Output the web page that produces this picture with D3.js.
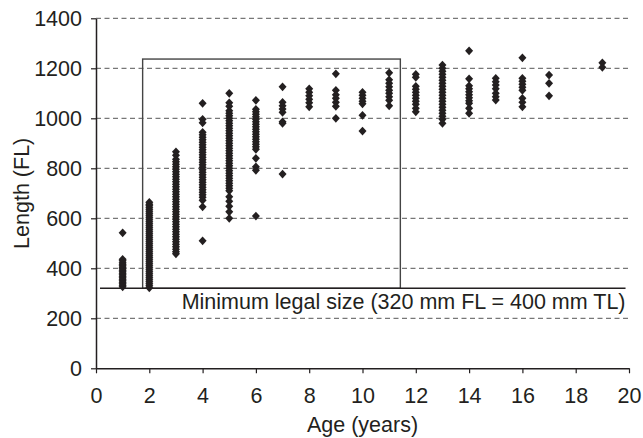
<!DOCTYPE html>
<html><head><meta charset="utf-8">
<script src="https://cdn.jsdelivr.net/npm/d3@7/dist/d3.min.js"></script>
<style>
html,body{margin:0;padding:0;background:#fff;}
svg{display:block;}
text{font-family:"Liberation Sans",Arial,Helvetica,sans-serif;fill:#231f20;}
</style></head>
<body>
<script>
// ---- data ----
const ages = [1,2,3,4,5,6,7,8,9,10,11,12,13,14,15,16,17,19];
const len1 = [326,332,338,344,350,356,362,368,374,380,386,392,398,404,410,416,422,430,436,542];
const len2 = [322,330,338,346,354,362,370,378,386,394,402,410,418,426,434,442,450,458,466,474,482,490,498,506,514,522,530,538,546,554,562,570,578,586,594,602,610,618,626,634,642,650,656,664];
const len3 = [866,852,836,826,816,806,796,786,776,766,756,746,736,726,716,706,696,686,676,666,656,646,636,626,616,606,596,586,576,566,556,546,536,526,516,506,496,486,476,466,458];
const len4 = [1060,996,982,944,934,924,914,904,894,884,874,864,854,844,834,824,814,804,794,784,774,764,754,744,734,724,714,704,694,684,672,646,510];
const len5 = [1100,1062,1048,1030,1020,1010,1000,990,980,970,960,950,940,930,920,910,900,890,880,870,860,850,840,830,820,810,800,790,780,770,760,750,740,730,720,710,686,668,648,626,600];
const len6 = [1072,1036,1026,1016,1006,996,986,976,966,956,946,936,926,916,906,896,886,876,840,806,792,609];
const len7 = [1126,1064,1050,1037,1024,986,980,777];
const len8 = [1118,1104,1090,1076,1062,1046];
const len9 = [1178,1112,1094,1080,1064,1048,1000];
const len10 = [1104,1092,1080,1068,1058,1012,949];
const len11 = [1182,1154,1140,1126,1112,1100,1086,1072,1050];
const len12 = [1176,1164,1128,1116,1104,1092,1080,1068,1056,1040,1026];
const len13 = [1213,1200,1188,1176,1164,1152,1140,1128,1116,1104,1092,1080,1068,1056,1044,1032,1020,1008,996,980];
const len14 = [1270,1158,1130,1118,1106,1094,1082,1070,1060,1040,1020];
const len15 = [1160,1146,1133,1118,1100,1086,1073];
const len16 = [1242,1160,1148,1136,1124,1112,1080,1064,1046];
const len17 = [1173,1140,1090];
const len19 = [1222,1204];
const lengthsByAge = [len1,len2,len3,len4,len5,len6,len7,len8,len9,len10,len11,len12,len13,len14,len15,len16,len17,len19];

const xTicks = [0,2,4,6,8,10,12,14,16,18,20];
const yTicks = [0,200,400,600,800,1000,1200,1400];
const gridValues = [200,400,600,800,1000,1200,1400];
const boxAge = [1.75, 11.42];
const boxLength = [320, 1237];
const legalSize = 320;
const legalAgeSpan = [0.15, 19.87];
const legalLabel = "Minimum legal size (320 mm FL = 400 mm TL)";
const xTitle = "Age (years)";
const yTitle = "Length (FL)";

// ---- chart ----
const W = 643, H = 438;
const FS = 21.5;
const x = d3.scaleLinear().domain([0,20]).range([96, 629]);
const y = d3.scaleLinear().domain([0,1400]).range([368.3, 18.3]);

const svg = d3.select("body").append("svg").attr("width", W).attr("height", H);

// gridlines
svg.append("g").selectAll("line").data(gridValues).join("line")
  .attr("x1", x(0)).attr("x2", x(20))
  .attr("y1", d => y(d)).attr("y2", d => y(d))
  .attr("stroke", "#555").attr("stroke-width", 1).attr("stroke-dasharray", "5,3.5");

// box
svg.append("rect")
  .attr("x", x(boxAge[0])).attr("y", y(boxLength[1]))
  .attr("width", x(boxAge[1]) - x(boxAge[0]))
  .attr("height", y(boxLength[0]) - y(boxLength[1]))
  .attr("fill", "none").attr("stroke", "#444").attr("stroke-width", 1.4);

// legal size line
svg.append("line")
  .attr("x1", x(legalAgeSpan[0])).attr("x2", x(legalAgeSpan[1]))
  .attr("y1", y(legalSize)).attr("y2", y(legalSize))
  .attr("stroke", "#231f20").attr("stroke-width", 1.5);

svg.append("text")
  .attr("x", x(legalAgeSpan[1])).attr("y", y(legalSize) + 21)
  .attr("text-anchor", "end").attr("font-size", FS)
  .text(legalLabel);

// points
const pts = [];
ages.forEach((a, i) => lengthsByAge[i].forEach(v => pts.push({a, v})));
const diamond = {draw(ctx){ ctx.moveTo(0,-4.4); ctx.lineTo(4,0); ctx.lineTo(0,4.4); ctx.lineTo(-4,0); ctx.closePath(); }};
svg.append("g").selectAll("path").data(pts).join("path")
  .attr("d", d3.symbol().type(diamond)())
  .attr("transform", d => `translate(${x(d.a)},${y(d.v)})`)
  .attr("fill", "#231f20");

// axes
const gx = svg.append("g").attr("transform", `translate(0,${y(0)})`)
  .call(d3.axisBottom(x).tickValues(xTicks).tickFormat(d3.format("d")).tickSize(5).tickPadding(14).tickSizeOuter(0));
const gy = svg.append("g").attr("transform", `translate(${x(0)},0)`)
  .call(d3.axisLeft(y).tickValues(yTicks).tickFormat(d3.format("d")).tickSize(5).tickPadding(9).tickSizeOuter(0));
[gx, gy].forEach(g => {
  g.select(".domain").attr("stroke", "#231f20").attr("stroke-width", 1.5);
  g.selectAll(".tick line").attr("stroke", "#231f20").attr("stroke-width", 1.2);
  g.selectAll(".tick text").attr("font-size", FS).attr("font-family", "Liberation Sans, Arial, sans-serif").attr("fill", "#231f20");
});

svg.append("text").attr("x", (x(0)+x(20))/2).attr("y", 432)
  .attr("text-anchor", "middle").attr("font-size", FS).text(xTitle);
svg.append("text").attr("transform", `translate(29,${(y(0)+y(1400))/2}) rotate(-90)`)
  .attr("text-anchor", "middle").attr("font-size", FS).text(yTitle);
</script>
</body></html>
